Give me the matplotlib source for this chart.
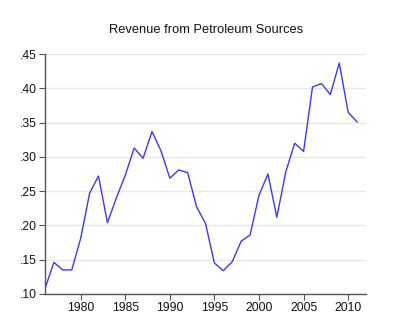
import matplotlib
matplotlib.use("Agg")
import matplotlib.pyplot as plt
from matplotlib.ticker import FuncFormatter

plt.rcParams['font.family'] = ['Liberation Sans', 'DejaVu Sans']

years = list(range(1976, 2012))
revenue = [0.108, 0.146, 0.135, 0.135, 0.181, 0.247, 0.272, 0.204, 0.240, 0.273,
           0.313, 0.298, 0.337, 0.309, 0.269, 0.281, 0.277, 0.227, 0.203, 0.145,
           0.134, 0.147, 0.177, 0.186, 0.244, 0.275, 0.212, 0.278, 0.320, 0.308,
           0.402, 0.407, 0.391, 0.437, 0.365, 0.351]
y_ticks = [0.10, 0.15, 0.20, 0.25, 0.30, 0.35, 0.40, 0.45]
x_ticks = [1980, 1985, 1990, 1995, 2000, 2005, 2010]
title = "Revenue from Petroleum Sources"

fig = plt.figure(figsize=(4.0, 3.34), dpi=100)
ax = fig.add_axes([0.1125, 0.12, 0.8025, 0.718])

ax.plot(years, revenue, color="#3a3af5", linewidth=1.0)

ax.set_xlim(1976, 2012)
ax.set_ylim(0.10, 0.45)
ax.set_yticks(y_ticks)
ax.set_xticks(x_ticks)
ax.yaxis.set_major_formatter(FuncFormatter(lambda v, p: ("%.2f" % v).lstrip("0")))

ax.grid(axis="y", color="#e8e8e8", linewidth=1.0)
ax.set_axisbelow(True)
for side in ("top", "right"):
    ax.spines[side].set_visible(False)
for side in ("left", "bottom"):
    ax.spines[side].set_color("#555555")
    ax.spines[side].set_linewidth(1.0)

ax.tick_params(axis="both", direction="out", length=4, width=0.8, color="#555555",
               labelsize=8.7, labelcolor="#111111", pad=2)

fig.text(0.514, 0.91, title, ha="center", va="center", fontsize=9.3, color="#111111")

fig.savefig("out.png", dpi=100, facecolor="white")
